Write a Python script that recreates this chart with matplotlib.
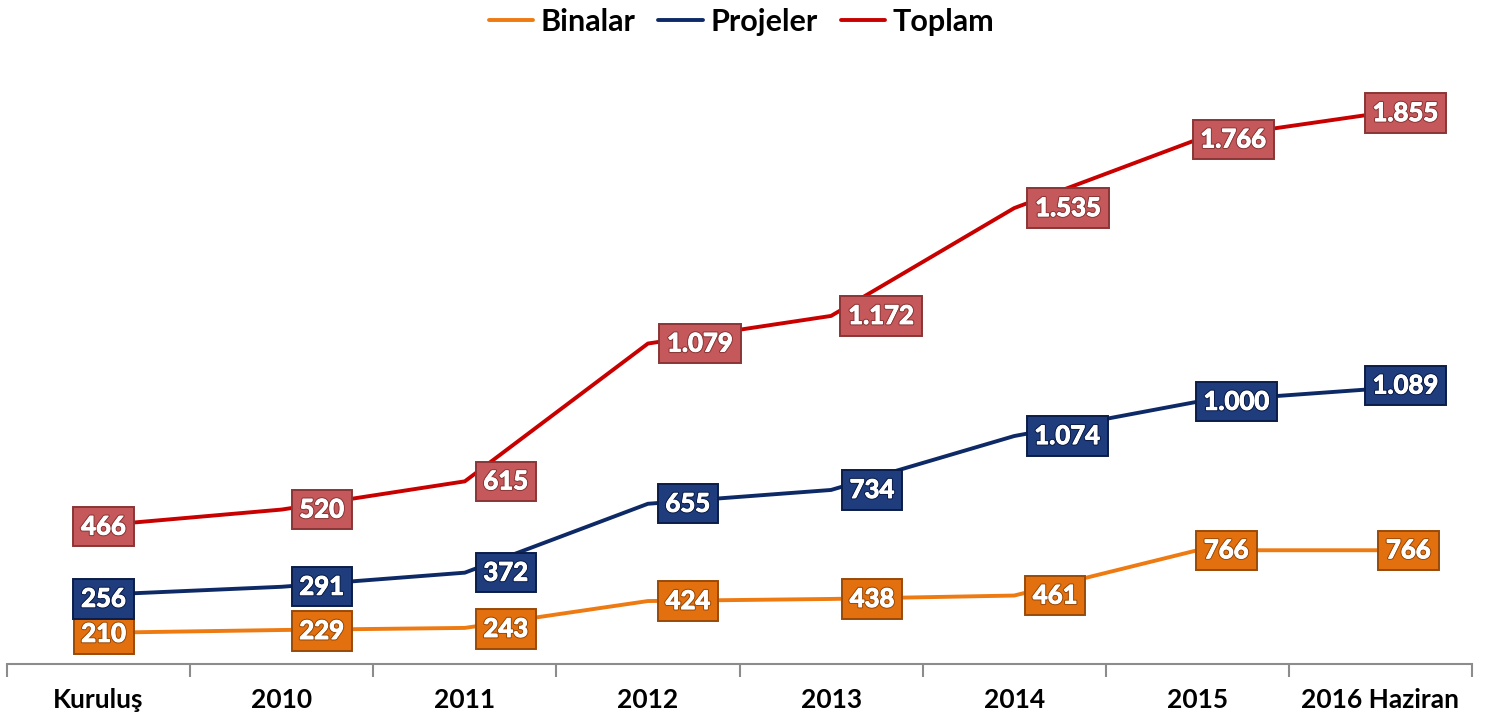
import numpy as np
import matplotlib
matplotlib.use("Agg")
import matplotlib.pyplot as plt
from matplotlib import patheffects as pe

# ---- data ----
categories = ["Kuruluş", "2010", "2011", "2012", "2013", "2014", "2015", "2016 Haziran"]
binalar = [210, 229, 243, 424, 438, 461, 766, 766]
projeler = [256, 291, 372, 655, 734, 1074, 1000, 1089]
toplam = [466, 520, 615, 1079, 1172, 1535, 1766, 1855]
series_names = ["Binalar", "Projeler", "Toplam"]

# ---- style ----
plt.rcParams['font.family'] = ['Lato', 'DejaVu Sans']
line_colors = ["#EE7A12", "#0E2A66", "#C80000"]
box_faces = ["#E2700F", "#1F3C7C", "#C4585A"]
box_edges = ["#9A4A08", "#0B1D48", "#8A3536"]
# horizontal label offsets (pixels) relative to the point
label_dx = [
    [5, 40, 41, 40, 41, 41, 29, 28],
    [5, 40, 41, 40, 41, 53, 39, 25],
    [5, 40, 41, 52, 50, 54, 36, 25],
]
label_dy = [
    [1, 1, 1, 0, 0, 0, 0, 0],
    [4, 0, 0, 0, 0, 0, 0, -3],
    [1, 0, 0, 0, 0, 0, 0, 0],
]

W, H, DPI = 1489, 717, 100
fig = plt.figure(figsize=(W / DPI, H / DPI), dpi=DPI)
ax_left, ax_right = 7 / W, 1472 / W
ax_bottom, ax_top = (H - 664) / H, (H - 70) / H
ax = fig.add_axes([ax_left, ax_bottom, ax_right - ax_left, ax_top - ax_bottom])

x = np.arange(len(categories))
values = [np.array(binalar), np.array(projeler), np.array(toplam)]
stacked = np.cumsum(np.vstack(values), axis=0)

handles = []
for i, name in enumerate(series_names):
    h, = ax.plot(x, stacked[i], color=line_colors[i], lw=2.8, solid_capstyle='round',
                 label=name, zorder=2)
    handles.append(h)

def fmt(v):
    return f"{v:,}".replace(",", ".")

for i in range(3):
    for j in range(len(categories)):
        ax.annotate(fmt(int(values[i][j])), (x[j], stacked[i][j]),
                    xytext=(label_dx[i][j], -label_dy[i][j]), textcoords='offset pixels',
                    ha='center', va='center', fontsize=18.5, fontweight='bold', color='white',
                    zorder=5,
                    bbox=dict(boxstyle='square,pad=0.3', fc=box_faces[i], ec=box_edges[i], lw=1.4),
                    path_effects=[pe.withStroke(linewidth=2.2, foreground=box_edges[i]),
                                  pe.withStroke(linewidth=0.7, foreground='white')])

ax.set_xlim(-0.5, len(categories) - 0.5)
ax.set_ylim(0, 4000)
ax.set_yticks([])
for s in ['top', 'right', 'left']:
    ax.spines[s].set_visible(False)
ax.spines['bottom'].set_color('#8C8C8C')
ax.spines['bottom'].set_linewidth(1.5)
ax.set_xticks(x)
ax.set_xticklabels(categories, fontsize=19, fontweight='bold')
ax.tick_params(axis='x', which='major', length=0, pad=17)
ax.set_xticks(np.arange(-0.5, len(categories), 1.0), minor=True)
ax.tick_params(axis='x', which='minor', length=9, width=1.5, color='#8C8C8C')

fig.legend(handles=handles, labels=series_names, loc='upper center', ncol=3,
           bbox_to_anchor=(0.498, 1.027), frameon=False, handlelength=1.45,
           handletextpad=0.25, columnspacing=0.75,
           prop=dict(size=22, weight='bold'))

fig.savefig("out.png", dpi=DPI)
